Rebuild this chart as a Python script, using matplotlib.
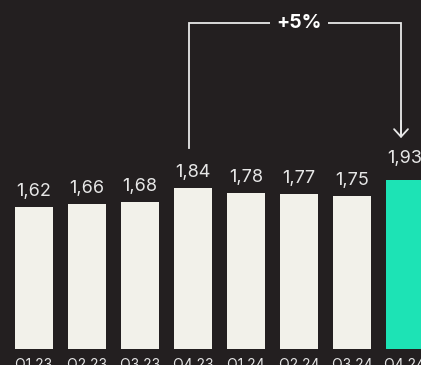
import matplotlib
matplotlib.use('Agg')
import matplotlib.pyplot as plt

# data
quarters = ['Q1 23', 'Q2 23', 'Q3 23', 'Q4 23', 'Q1 24', 'Q2 24', 'Q3 24', 'Q4 24']
values = [1.62, 1.66, 1.68, 1.84, 1.78, 1.77, 1.75, 1.93]
value_labels = ['1,62', '1,66', '1,68', '1,84', '1,78', '1,77', '1,75', '1,93']
change_label = '+5%'
change_from, change_to = 3, 7

BG = '#231f20'
BAR = '#f2f1ea'
HIGHLIGHT = '#1de3b5'
TEXT = '#e6e6e6'
LINE = '#e8e8e8'

plt.rcParams['font.family'] = ['Inter', 'DejaVu Sans']

W, H = 421, 365
fig = plt.figure(figsize=(W / 100, H / 100), dpi=100)
fig.patch.set_facecolor(BG)

# axes fills the figure, baseline sits 16 px above the bottom edge
ax = fig.add_axes([0, 16 / H, 1, (H - 16) / H])
ax.set_facecolor(BG)

x = list(range(len(values)))
colors = [BAR] * (len(values) - 1) + [HIGHLIGHT]
ax.bar(x, values, width=0.717, color=colors, linewidth=0)

ax.set_xlim(-0.6415, 7.302)
ax.set_ylim(0, (H - 16) / 87.5)

for i, (v, lab) in enumerate(zip(values, value_labels)):
    off = 9.5 if i == len(values) - 1 else 5
    ax.annotate(lab, (i, v), xytext=(0, off), textcoords='offset points',
                ha='center', va='bottom', fontsize=13, color=TEXT)

ax.set_xticks(x)
ax.set_xticklabels(quarters, fontsize=10, color=TEXT)
ax.tick_params(axis='x', length=0, pad=6.5)
ax.set_yticks([])
for s in ax.spines.values():
    s.set_visible(False)

# bracket showing the year-over-year change
top_y = 3.73
dx = -0.075
px = 1 / 87.5
x0, x1 = change_from + dx, change_to + dx
y0 = values[change_from] + 40 * px
y1 = values[change_to] + 42 * px
ax.plot([x0, x0, x1, x1], [y0, top_y, top_y, y1 + 0.02], color=LINE, lw=1.3,
        solid_joinstyle='miter')
ax.annotate('', xy=(x1, y1), xytext=(x1, y1 + 0.2),
            arrowprops=dict(arrowstyle='->,head_length=0.55,head_width=0.5',
                            color=LINE, lw=1.3, shrinkA=0, shrinkB=0))
ax.text((change_from + change_to) / 2, top_y, change_label, ha='center', va='center',
        fontsize=14, fontweight='bold', color='white',
        bbox=dict(boxstyle='square,pad=0.35', facecolor=BG, edgecolor='none'))

fig.savefig('out.png', dpi=100, facecolor=BG)
